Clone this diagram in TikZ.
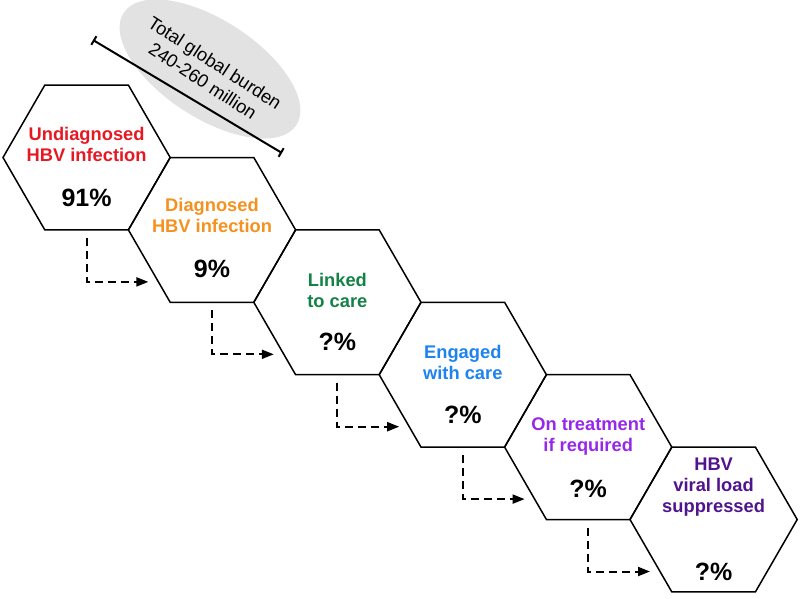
\documentclass[tikz,border=0pt]{standalone}
\usepackage{fontspec}
\setmainfont{Liberation Sans}
\usetikzlibrary{arrows.meta,shapes.geometric}

\definecolor{hbvred}{RGB}{230,25,35}
\definecolor{hbvorange}{RGB}{245,145,30}
\definecolor{hbvgreen}{RGB}{20,130,70}
\definecolor{hbvblue}{RGB}{30,130,240}
\definecolor{hbvpurple}{RGB}{150,40,235}
\definecolor{hbvindigo}{RGB}{80,20,140}
\definecolor{burdengray}{RGB}{226,226,226}

\begin{document}
\begin{tikzpicture}[x=1pt,y=-1pt]
          \tikzstyle{hexa}=[regular polygon,regular polygon sides=6,draw=black,line width=1.5pt,minimum size=167.2pt,inner sep=0pt,outer sep=0pt]
          \tikzstyle{title}=[align=center,font=\fontsize{18.3}{21}\selectfont\bfseries]
          \tikzstyle{pct}=[font=\fontsize{25}{29}\selectfont\bfseries]
          \tikzstyle{flow}=[-{Triangle[length=12pt,width=9pt]},line width=2pt,dash pattern=on 8pt off 5pt]

          \useasboundingbox (0,0) rectangle (800,599);

          % total burden
          \coordinate (c) at (210,69);
          \fill[burdengray,rotate around={-33:(c)}] (c) ellipse [x radius=103pt,y radius=49pt];
          \node[align=center,rotate=-33,font=\fontsize{18.3}{22}\selectfont](burden) at (209,72) {Total global burden\\240-260 million};
          \coordinate (b1) at (93,40);
          \coordinate (b2) at (282,153);
          \draw[{Bar[width=10pt]}-{Bar[width=10pt]},line width=2pt] (b1) -- (b2);

          % cascade
          \node[hexa](h1) at (86.6,157.5) {};
          \node[hexa](h2) at (212,229.9) {};
          \node[hexa](h3) at (337.4,302.3) {};
          \node[hexa](h4) at (462.8,374.7) {};
          \node[hexa](h5) at (588.2,447.1) {};
          \node[hexa](h6) at (713.6,519.5) {};

          \node[title,text=hbvred](t1) at ([yshift=13pt]h1) {Undiagnosed\\HBV infection};
          \node[title,text=hbvorange](t2) at ([yshift=14pt]h2) {Diagnosed\\HBV infection};
          \node[title,text=hbvgreen](t3) at ([yshift=12pt]h3) {Linked\\to care};
          \node[title,text=hbvblue](t4) at ([yshift=12pt]h4) {Engaged\\with care};
          \node[title,text=hbvpurple](t5) at ([yshift=11pt]h5) {On treatment\\if required};
          \node[title,text=hbvindigo](t6) at ([yshift=32pt]h6) {HBV\\viral load\\suppressed};

          \node[pct](p1) at ([yshift=-40pt]h1) {91\%};
          \node[pct](p2) at ([yshift=-39pt]h2) {9\%};
          \node[pct](p3) at ([yshift=-40pt]h3) {?\%};
          \node[pct](p4) at ([yshift=-40pt]h4) {?\%};
          \node[pct](p5) at ([yshift=-42pt]h5) {?\%};
          \node[pct](p6) at ([yshift=-52pt]h6) {?\%};

          \draw[flow] ([yshift=-8pt]h1.south) |- ([xshift=20pt,yshift=-52pt]h2.west);
          \draw[flow] ([yshift=-8pt]h2.south) |- ([xshift=20pt,yshift=-52pt]h3.west);
          \draw[flow] ([yshift=-8pt]h3.south) |- ([xshift=20pt,yshift=-52pt]h4.west);
          \draw[flow] ([yshift=-8pt]h4.south) |- ([xshift=20pt,yshift=-52pt]h5.west);
          \draw[flow] ([yshift=-8pt]h5.south) |- ([xshift=20pt,yshift=-52pt]h6.west);
        \end{tikzpicture}
\end{document}
